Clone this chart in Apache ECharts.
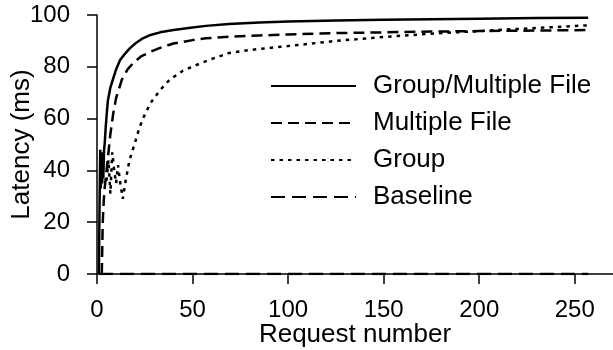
<!DOCTYPE html>
<html>
<head>
<meta charset="utf-8">
<script src="https://cdn.jsdelivr.net/npm/echarts@6/dist/echarts.min.js"></script>
<style>
html,body{margin:0;padding:0;background:#fff;}
#chart{width:613px;height:350px;}
</style>
</head>
<body>
<div id="chart"></div>
<script>
// Series names
const seriesNames = ['Group/Multiple File', 'Multiple File', 'Group', 'Baseline'];

// Tick labels
const xTicks = [0, 50, 100, 150, 200, 250];
const yTicks = [0, 20, 40, 60, 80, 100];

// Group/Multiple File
const gmfX = [1, 1.3, 1.7, 2, 2.3, 2.7, 3, 3.3, 3.7, 4, 4.5, 5, 5.7, 7, 8.5, 10, 12, 14, 17, 20, 24, 28, 33, 40, 50, 57, 69, 85, 100, 125, 150, 175, 200, 230, 257];
const gmfY = [0, 25, 48, 33, 47, 35, 45, 37, 48, 50, 56, 61, 67, 72, 75.5, 79, 82.5, 84.5, 87, 89, 91, 92.3, 93.3, 94.2, 95.2, 95.8, 96.5, 97.1, 97.5, 97.9, 98.2, 98.4, 98.6, 98.8, 98.9];

// Multiple File
const mfX = [2.5, 3, 3.5, 4, 5, 6, 7, 8.5, 10, 13, 16, 19, 23, 28, 33, 40, 50, 57, 69, 85, 100, 125, 150, 175, 200, 230, 257];
const mfY = [0, 20, 28, 33, 40, 47, 54, 62, 68, 75, 79, 81.5, 84, 85.8, 87.3, 89, 90.3, 91, 91.6, 92.1, 92.5, 93, 93.3, 93.6, 93.8, 94, 94.2];

// Group
const gX = [5, 6, 7, 8, 9, 10, 11, 12, 13.5, 15, 17, 20, 22, 24, 28, 33, 38, 45, 52, 60, 69, 80, 100, 125, 150, 175, 200, 230, 257];
const gY = [36, 44, 31, 47, 40, 35, 42, 36, 29, 36, 44, 51, 56, 60, 66, 71, 75, 78.5, 80.7, 83, 85.3, 86.5, 88, 90, 91.5, 92.8, 93.8, 95, 96];

// Baseline
const bX = [1, 257];
const bY = [0, 0];

const zip = (xs, ys) => xs.map((x, i) => [x, ys[i]]);
const FONT = "'Liberation Sans', Arial, sans-serif";

const chart = echarts.init(document.getElementById('chart'), null, {renderer: 'canvas'});
const lineCommon = {type: 'line', symbol: 'none', showSymbol: false, animation: false, smooth: false};

chart.setOption({
  animation: false,
  backgroundColor: '#fff',
  grid: {left: 97, right: 0, top: 15, bottom: 76, containLabel: false, outerBoundsMode: 'none'},
  xAxis: {
    type: 'value', min: 0, max: 270, interval: 50,
    name: 'Request number', nameLocation: 'middle', nameGap: 48, nameMoveOverlap: false,
    nameTextStyle: {fontFamily: FONT, fontSize: 26, color: '#000'},
    axisLine: {show: true, onZero: false, lineStyle: {color: '#000', width: 1.5}},
    axisTick: {show: true, length: 10, inside: false, customValues: xTicks, lineStyle: {color: '#000', width: 1.5}},
    axisLabel: {customValues: xTicks, margin: 24, fontFamily: FONT, fontSize: 24, color: '#000'},
    splitLine: {show: false}
  },
  yAxis: {
    type: 'value', min: 0, max: 100, interval: 20,
    name: 'Latency (ms)', nameLocation: 'middle', nameGap: 62, nameMoveOverlap: false,
    nameTextStyle: {fontFamily: FONT, fontSize: 26, color: '#000'},
    axisLine: {show: true, lineStyle: {color: '#000', width: 1.5}},
    axisTick: {show: true, length: 10, inside: false, lineStyle: {color: '#000', width: 1.5}},
    axisLabel: {margin: 27, fontFamily: FONT, fontSize: 24, color: '#000'},
    splitLine: {show: false}
  },
  legend: {
    orient: 'vertical', left: 270, top: 73, padding: 0,
    itemWidth: 85, itemHeight: 14, itemGap: 11,
    data: seriesNames,
    itemStyle: {color: 'rgba(0,0,0,0)', borderWidth: 0, opacity: 0},
    textStyle: {fontFamily: FONT, fontSize: 26, lineHeight: 26, color: '#000', padding: [0, 0, 0, 12]},
    selectedMode: false
  },
  series: [
    Object.assign({}, lineCommon, {name: seriesNames[0], data: zip(gmfX, gmfY), z: 4,
      lineStyle: {color: '#000', width: 2.5, type: 'solid'}, itemStyle: {color: '#000'}}),
    Object.assign({}, lineCommon, {name: seriesNames[1], data: zip(mfX, mfY), z: 3,
      lineStyle: {color: '#000', width: 2.5, type: [11, 6]}, itemStyle: {color: '#000'}}),
    Object.assign({}, lineCommon, {name: seriesNames[2], data: zip(gX, gY), z: 2,
      lineStyle: {color: '#000', width: 2.5, type: [3.5, 5]}, itemStyle: {color: '#000'}}),
    Object.assign({}, lineCommon, {name: seriesNames[3], data: zip(bX, bY), z: 5,
      lineStyle: {color: '#000', width: 2.5, type: [14, 7]}, itemStyle: {color: '#000'}})
  ]
});
</script>
</body>
</html>
